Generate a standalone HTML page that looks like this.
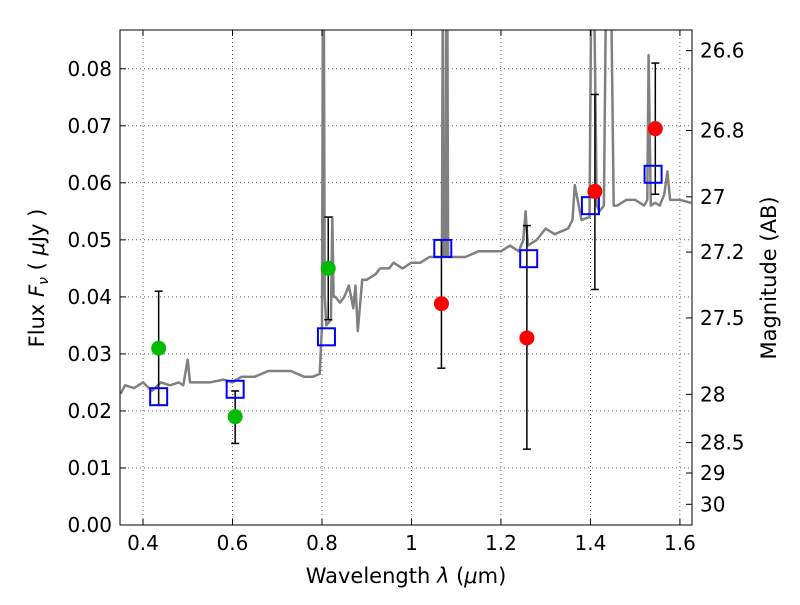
<!DOCTYPE html>
<html><head><meta charset="utf-8">
<style>
body{margin:0;background:#fff;}
svg text{font-family:"DejaVu Sans","Liberation Sans",sans-serif;}
</style></head>
<body>
<svg id="chart" width="800" height="600" xmlns="http://www.w3.org/2000/svg">
<defs><clipPath id="clip"><rect x="120" y="30" width="572" height="495"/></clipPath></defs>
<rect x="0" y="0" width="800" height="600" fill="#fff"/>
<g id="grid"></g>
<g id="spec" clip-path="url(#clip)"></g>
<g id="marks"></g>
<rect x="120" y="30" width="572" height="495" fill="none" stroke="#000" stroke-width="1"/>
<g id="axes"></g>
<text x="406" y="583" font-size="21" text-anchor="middle">Wavelength  <tspan font-style="italic">λ</tspan> (<tspan font-style="italic">μ</tspan>m)</text>
<text transform="translate(44,278) rotate(-90)" font-size="21" text-anchor="middle">Flux  <tspan font-style="italic">F</tspan><tspan font-style="italic" font-size="14" dy="4">ν</tspan><tspan dy="-4">  ( </tspan><tspan font-style="italic">μ</tspan>Jy )</text>
<text transform="translate(776,278) rotate(-90)" font-size="21" text-anchor="middle">Magnitude (AB)</text>
</svg>
<script>
const xTicks=[0.4,0.6,0.8,1.0,1.2,1.4,1.6];
const xTickLabels=["0.4","0.6","0.8","1","1.2","1.4","1.6"];
const yTicks=[0,0.01,0.02,0.03,0.04,0.05,0.06,0.07,0.08];
const yTickLabels=["0.00","0.01","0.02","0.03","0.04","0.05","0.06","0.07","0.08"];
const magTicks=[26.6,26.8,27,27.2,27.5,28,28.5,29,30];
const magTickLabels=["26.6","26.8","27","27.2","27.5","28","28.5","29","30"];
const specWave=[0.35,0.36,0.38,0.40,0.42,0.44,0.46,0.48,0.49,0.50,0.505,0.52,0.55,0.58,0.60,0.62,0.65,0.68,0.70,0.73,0.76,0.78,0.795,0.800,0.802,0.804,0.806,0.81,0.82,0.823,0.826,0.83,0.84,0.85,0.86,0.87,0.875,0.88,0.89,0.90,0.92,0.93,0.95,0.96,0.98,1.0,1.02,1.04,1.06,1.068,1.070,1.072,1.076,1.078,1.080,1.082,1.10,1.12,1.15,1.18,1.20,1.22,1.24,1.25,1.255,1.26,1.28,1.30,1.32,1.35,1.36,1.365,1.38,1.398,1.402,1.408,1.414,1.42,1.430,1.435,1.440,1.446,1.452,1.46,1.48,1.50,1.52,1.527,1.530,1.535,1.545,1.555,1.565,1.572,1.578,1.60,1.625];
const specFlux=[0.023,0.0245,0.024,0.025,0.0235,0.025,0.0245,0.025,0.0245,0.029,0.025,0.025,0.025,0.0255,0.025,0.026,0.026,0.027,0.027,0.027,0.026,0.026,0.0265,0.035,0.095,0.095,0.04,0.035,0.036,0.054,0.04,0.04,0.039,0.04,0.042,0.038,0.042,0.034,0.043,0.043,0.044,0.045,0.045,0.046,0.045,0.046,0.046,0.047,0.047,0.047,0.095,0.047,0.047,0.095,0.095,0.047,0.047,0.047,0.048,0.048,0.048,0.049,0.048,0.05,0.055,0.049,0.05,0.052,0.051,0.052,0.0535,0.0596,0.0535,0.054,0.095,0.095,0.056,0.055,0.056,0.095,0.095,0.095,0.056,0.056,0.057,0.057,0.056,0.057,0.0824,0.056,0.0565,0.056,0.058,0.062,0.057,0.057,0.0565];
const greenWave=[0.435,0.606,0.814];
const greenFlux=[0.031,0.019,0.045];
const greenLo=[0.021,0.0143,0.036];
const greenHi=[0.041,0.0235,0.054];
const redWave=[1.067,1.258,1.41,1.545];
const redFlux=[0.0388,0.0328,0.0585,0.0695];
const redLo=[0.0275,0.0133,0.0413,0.058];
const redHi=[0.050,0.0525,0.0755,0.081];
const modelWave=[0.435,0.606,0.81,1.07,1.262,1.40,1.54];
const modelFlux=[0.0225,0.0238,0.033,0.0485,0.0467,0.056,0.0615];

const X0=120,X1=692,Y0=525,Y1=30,xmin=0.3486,xmax=1.627,ymin=0,ymax=0.0868;
const xs=v=>X0+(v-xmin)/(xmax-xmin)*(X1-X0);
const ys=v=>Y0-(v-ymin)/(ymax-ymin)*(Y0-Y1);
const mag2flux=m=>Math.pow(10,(23.9-m)/2.5);
const NS="http://www.w3.org/2000/svg";
function mk(tag,attrs,parent){const e=document.createElementNS(NS,tag);for(const k in attrs)e.setAttribute(k,attrs[k]);parent.appendChild(e);return e;}
const grid=document.getElementById('grid'),axes=document.getElementById('axes'),spec=document.getElementById('spec'),marks=document.getElementById('marks');

xTicks.forEach((t,i)=>{const x=xs(t);
 const g=mk('line',{x1:x,x2:x,y1:Y1,y2:Y0,stroke:'#000','stroke-width':0.6,'stroke-dasharray':'1,3'},grid);
 
 
 mk('line',{x1:x,x2:x,y1:Y0,y2:Y0-6,stroke:'#000'},axes);
 mk('line',{x1:x,x2:x,y1:Y1,y2:Y1+6,stroke:'#000'},axes);
 const tx=mk('text',{x:x,y:Y0+25,'font-size':20,'text-anchor':'middle'},axes);tx.textContent=xTickLabels[i];
 
 
});
yTicks.forEach((t,i)=>{const y=ys(t);
 const g=mk('line',{x1:X0,x2:X1,y1:y,y2:y,stroke:'#000','stroke-width':0.6,'stroke-dasharray':'1,3'},grid);
 
 
 mk('line',{x1:X0,x2:X0+6,y1:y,y2:y,stroke:'#000'},axes);
 const tx=mk('text',{x:X0-8,y:y+7,'font-size':20,'text-anchor':'end'},axes);tx.textContent=yTickLabels[i];
 
 
});
magTicks.forEach((m,i)=>{const y=ys(mag2flux(m));
 mk('line',{x1:X1,x2:X1-6,y1:y,y2:y,stroke:'#000'},axes);
 const tx=mk('text',{x:X1+8,y:y+7,'font-size':20,'text-anchor':'start'},axes);tx.textContent=magTickLabels[i];
 
 
});
const pts=specWave.map((w,i)=>xs(w).toFixed(1)+','+ys(specFlux[i]).toFixed(1)).join(' ');
const pl=mk('polyline',{points:pts,fill:'none',stroke:'#808080','stroke-width':2.5,'stroke-linejoin':'round'},spec);



function errbar(x,lo,hi){const cx=xs(x);
 mk('line',{x1:cx,x2:cx,y1:ys(lo),y2:ys(hi),stroke:'#000','stroke-width':1.5},marks);
 mk('line',{x1:cx-4,x2:cx+4,y1:ys(lo),y2:ys(lo),stroke:'#000','stroke-width':1.5},marks);
 mk('line',{x1:cx-4,x2:cx+4,y1:ys(hi),y2:ys(hi),stroke:'#000','stroke-width':1.5},marks);}
greenWave.forEach((w,i)=>errbar(w,greenLo[i],greenHi[i]));
redWave.forEach((w,i)=>errbar(w,redLo[i],redHi[i]));
modelWave.forEach((w,i)=>{const r=mk('rect',{x:xs(w)-8.5,y:ys(modelFlux[i])-8.5,width:17,height:17,fill:'none',stroke:'#0000ff','stroke-width':2},marks);
 
 });
greenWave.forEach((w,i)=>{const c=mk('circle',{cx:xs(w),cy:ys(greenFlux[i]),r:7.5,fill:'#00bb00'},marks);
 
 });
redWave.forEach((w,i)=>{const c=mk('circle',{cx:xs(w),cy:ys(redFlux[i]),r:7.5,fill:'#ff0000'},marks);
 
 });
</script>
</body></html>
